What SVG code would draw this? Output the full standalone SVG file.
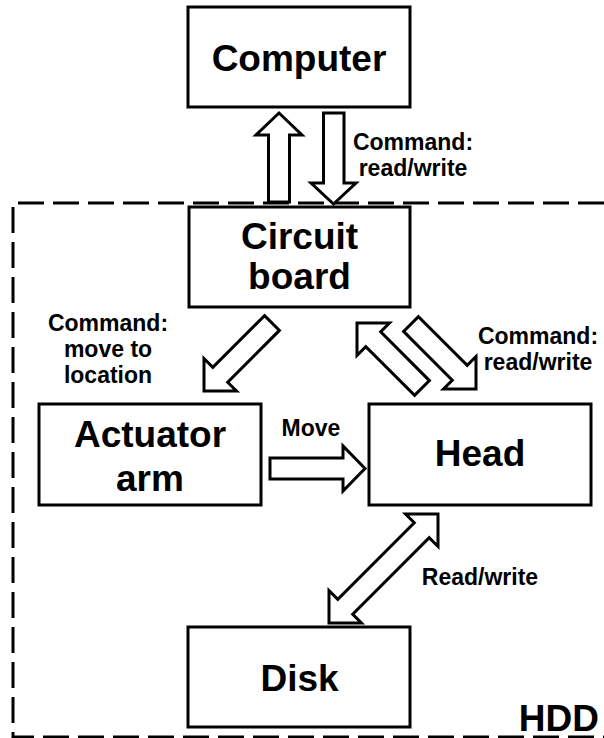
<svg xmlns="http://www.w3.org/2000/svg" width="604" height="738" viewBox="0 0 604 738">
<style>
.box{fill:#fff;stroke:#000;stroke-width:3}
.big{font-family:"Liberation Sans",Arial,sans-serif;font-weight:bold;font-size:37px;fill:#000;text-anchor:middle}
.lbl{font-family:"Liberation Sans",Arial,sans-serif;font-weight:bold;font-size:23px;fill:#000;text-anchor:middle}
.arr{fill:#fff;stroke:#000;stroke-width:3;stroke-linejoin:miter}
.dash{fill:none;stroke:#000;stroke-width:3;stroke-dasharray:26 9}
</style>
<rect width="604" height="738" fill="#fff"/>
<g id="hdd">
<path class="dash" d="M604 203 H13 V737 H604"/>
<text x="599" y="731" class="big" style="text-anchor:end">HDD</text>
</g>
<g id="computer">
<rect class="box" x="188" y="7" width="222" height="100"/>
<text x="299" y="71" class="big">Computer</text>
</g>
<g id="circuit-board">
<rect class="box" x="189" y="207" width="221" height="100"/>
<text x="299.5" y="249" class="big">Circuit</text>
<text x="299.5" y="289" class="big">board</text>
</g>
<g id="actuator-arm">
<rect class="box" x="39" y="404" width="222" height="101"/>
<text x="150" y="447" class="big">Actuator</text>
<text x="150" y="491" class="big">arm</text>
</g>
<g id="head">
<rect class="box" x="369" y="404" width="222" height="101"/>
<text x="480" y="466" class="big">Head</text>
</g>
<g id="disk">
<rect class="box" x="188" y="627" width="222" height="100"/>
<text x="299.5" y="691" class="big">Disk</text>
</g>
<g id="connectors">
<polygon class="arr" points="268.5,202 268.5,135 256,135 279,113 302,135 289.5,135 289.5,202"/>
<polygon class="arr" points="323.5,113 344,113 344,183 356,183 333.5,204 311,183 323.5,183"/>
<text x="413" y="150" class="lbl">Command:</text>
<text x="413" y="176" class="lbl">read/write</text>
<polygon class="arr" points="204,391 236.5,391 227.7,382.2 279.4,330.4 264.6,315.6 212.8,367.3 204,358.5"/>
<text x="108" y="331" class="lbl">Command:</text>
<text x="108" y="357" class="lbl">move to</text>
<text x="108" y="383" class="lbl">location</text>
<polygon class="arr" points="357,323 389.5,323 380.7,331.8 429.4,380.6 414.6,395.4 365.8,346.7 357,355.5"/>
<polygon class="arr" points="476,389 476,356.5 467.2,365.3 418.4,316.6 403.6,331.4 452.3,380.2 443.5,389"/>
<text x="538" y="344" class="lbl">Command:</text>
<text x="538" y="370" class="lbl">read/write</text>
<polygon class="arr" points="270,458 343,458 343,446 365,468.5 343,491 343,479 270,479"/>
<text x="311" y="436" class="lbl">Move</text>
<polygon class="arr" points="438,514 438,546.5 429.2,537.7 352.7,614.2 361.5,623 329,623 329,590.5 337.8,599.3 414.3,522.8 405.5,514"/>
<text x="480" y="585" class="lbl">Read/write</text>
</g>
</svg>
